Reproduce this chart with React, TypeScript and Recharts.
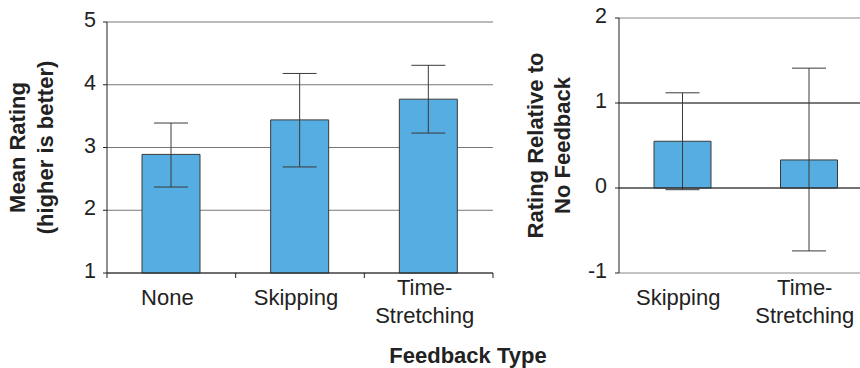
import { Bar, BarChart, CartesianGrid, ErrorBar, ReferenceLine, XAxis, YAxis } from "recharts"

const FONT = '"Liberation Sans", Arial, Helvetica, sans-serif'
const BLUE = "#55ade1"
const INK = "#222"

// left panel: mean rating per feedback type
const RATING_TYPES = ["None", "Skipping", "Time-Stretching"]
const RATING_MEANS = [2.89, 3.44, 3.77]
const RATING_LOW = [2.37, 2.69, 3.23]
const RATING_HIGH = [3.39, 4.18, 4.31]
const RATING_TICKS = [1, 2, 3, 4, 5]

// right panel: rating relative to no feedback
const RELATIVE_TYPES = ["Skipping", "Time-Stretching"]
const RELATIVE_MEANS = [0.55, 0.33]
const RELATIVE_LOW = [-0.02, -0.74]
const RELATIVE_HIGH = [1.12, 1.41]
const RELATIVE_TICKS = [-1, 0, 1, 2]

const ratingData = RATING_TYPES.map((name, i) => ({
  name,
  mean: RATING_MEANS[i],
  err: [RATING_MEANS[i] - RATING_LOW[i], RATING_HIGH[i] - RATING_MEANS[i]],
}))

const relativeData = RELATIVE_TYPES.map((name, i) => ({
  name,
  mean: RELATIVE_MEANS[i],
  err: [RELATIVE_MEANS[i] - RELATIVE_LOW[i], RELATIVE_HIGH[i] - RELATIVE_MEANS[i]],
}))

function splitLabel(value: string) {
  const i = value.indexOf("-")
  return i < 0 ? [value] : [value.slice(0, i + 1), value.slice(i + 1)]
}

function CategoryTick(props: any) {
  const { x, y, payload, index, visibleTicksCount, width, marks } = props
  const half = payload.offset ?? width / visibleTicksCount / 2
  const lines = splitLabel(String(payload.value))
  const baselines = lines.length === 1 ? [32] : [22, 50]
  return (
    <g>
      {marks && <line x1={x - half} y1={y} x2={x - half} y2={y + 5} stroke={INK} />}
      {marks && index === visibleTicksCount - 1 && (
        <line x1={x + half} y1={y} x2={x + half} y2={y + 5} stroke={INK} />
      )}
      {lines.map((line, i) => (
        <text key={line} x={x - 4} y={y + baselines[i]} textAnchor="middle" fontSize={22} fill={INK} fontFamily={FONT}>
          {line}
        </text>
      ))}
    </g>
  )
}

function ValueTick(props: any) {
  const { x, y, payload } = props
  return (
    <text x={x} y={y + 5} textAnchor="end" fontSize={21.5} fill={INK} fontFamily={FONT}>
      {payload.value}
    </text>
  )
}

function StackedLabel({ viewBox, lines, offsets }: any) {
  const { x, y, height } = viewBox
  const cy = y + height / 2
  return (
    <g>
      {lines.map((line: string, i: number) => (
        <text
          key={line}
          x={x + offsets[i]}
          y={cy}
          transform={`rotate(-90, ${x + offsets[i]}, ${cy})`}
          textAnchor="middle"
          fontSize={22}
          fontWeight="bold"
          fill={INK}
          fontFamily={FONT}
        >
          {line}
        </text>
      ))}
    </g>
  )
}

export default function App() {
  return (
    <div style={{ position: "fixed", left: 0, top: 0, width: 860, height: 368, overflow: "hidden", background: "#fff" }}>
      <div style={{ position: "absolute", left: 0, top: 0 }}>
        <BarChart width={500} height={368} data={ratingData} margin={{ top: 22, right: 7, bottom: 0, left: 0 }} barSize={58}>
          <CartesianGrid vertical={false} stroke="#777" yAxisId="left" />
          <XAxis
            dataKey="name"
            height={95}
            tickSize={0}
            tickMargin={0}
            axisLine={{ stroke: INK }}
            tick={<CategoryTick marks />}
            interval={0}
          />
          <YAxis
            yAxisId="left"
            type="number"
            domain={[1, 5]}
            ticks={RATING_TICKS}
            width={107}
            tickSize={4}
            tickMargin={7}
            axisLine={{ stroke: INK }}
            tickLine={{ stroke: INK }}
            tick={<ValueTick />}
            label={(p: any) => <StackedLabel {...p} lines={["Mean Rating", "(higher is better)"]} offsets={[25, 53]} />}
          />
          <YAxis
            yAxisId="edge"
            orientation="right"
            type="number"
            domain={[1, 5]}
            width={0}
            tick={false}
            tickLine={false}
            axisLine={{ stroke: "#c4c4c4" }}
          />
          <Bar yAxisId="left" dataKey="mean" fill={BLUE} stroke="#3a3a3a" strokeWidth={1} isAnimationActive={false}>
            <ErrorBar dataKey="err" width={17} stroke="#3a3a3a" strokeWidth={1} direction="y" isAnimationActive={false} />
          </Bar>
        </BarChart>
      </div>
      <div style={{ position: "absolute", left: 500, top: 0 }}>
        <BarChart width={380} height={368} data={relativeData} margin={{ top: 18, right: 8, bottom: 0, left: 0 }} barSize={57}>
          <CartesianGrid vertical={false} stroke="#888" />
          <XAxis
            dataKey="name"
            height={95}
            tickSize={0}
            tickMargin={0}
            axisLine={false}
            tick={<CategoryTick />}
            interval={0}
          />
          <YAxis
            type="number"
            domain={[-1, 2]}
            ticks={RELATIVE_TICKS}
            width={119}
            tickSize={4}
            tickMargin={8}
            axisLine={{ stroke: INK }}
            tickLine={{ stroke: INK }}
            tick={<ValueTick />}
            label={(p: any) => <StackedLabel {...p} lines={["Rating Relative to", "No Feedback"]} offsets={[43, 70]} />}
          />
          <ReferenceLine y={1} stroke="#333" />
          <Bar dataKey="mean" fill={BLUE} stroke="#3a3a3a" strokeWidth={1} isAnimationActive={false}>
            <ErrorBar dataKey="err" width={17} stroke="#3a3a3a" strokeWidth={1} direction="y" isAnimationActive={false} />
          </Bar>
          <ReferenceLine y={0} stroke={INK} />
        </BarChart>
      </div>
      <div
        style={{
          position: "absolute",
          left: 318,
          top: 345,
          width: 300,
          textAlign: "center",
          fontFamily: FONT,
          fontSize: 22,
          lineHeight: "22px",
          fontWeight: "bold",
          color: INK,
        }}
      >
        Feedback Type
      </div>
    </div>
  )
}
